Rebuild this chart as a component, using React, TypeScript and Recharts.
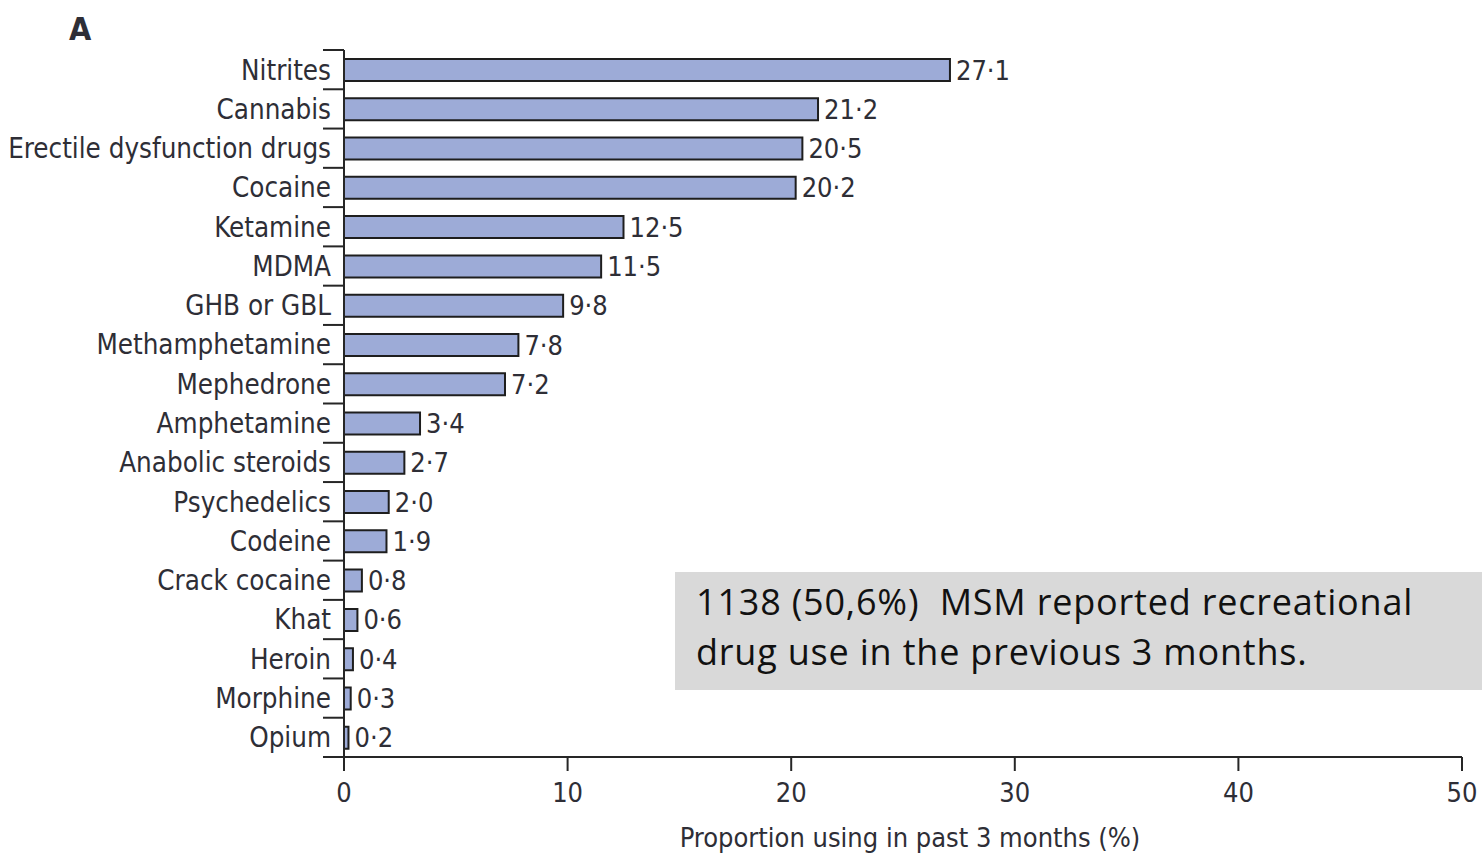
import { BarChart, Bar, XAxis, YAxis, LabelList, Label } from 'recharts';

const categories = [
  'Nitrites', 'Cannabis', 'Erectile dysfunction drugs', 'Cocaine', 'Ketamine', 'MDMA',
  'GHB or GBL', 'Methamphetamine', 'Mephedrone', 'Amphetamine', 'Anabolic steroids',
  'Psychedelics', 'Codeine', 'Crack cocaine', 'Khat', 'Heroin', 'Morphine', 'Opium',
];
const proportions = [27.1, 21.2, 20.5, 20.2, 12.5, 11.5, 9.8, 7.8, 7.2, 3.4, 2.7, 2.0, 1.9, 0.8, 0.6, 0.4, 0.3, 0.2];
const xTicks = [0, 10, 20, 30, 40, 50];

const data = categories.map((name, i) => ({ name, value: proportions[i] }));

const TEXT = '#2e2e36';
const AXIS = '#262626';
const LABEL_FONT = '"Liberation Sans Narrow", "DejaVu Sans Condensed", sans-serif';
const PLOT_TOP = 50;
const PLOT_BOTTOM = 757;
const BAND = (PLOT_BOTTOM - PLOT_TOP) / categories.length;

const fmt = (v: number) => v.toFixed(1).replace('.', '·');

// category label + tick mark at the top edge of each band
function CategoryTick(props: any) {
  const { x, y, payload } = props;
  const isLast = payload.value === categories[categories.length - 1];
  return (
    <g>
      <line x1={x - 21} x2={x} y1={y - BAND / 2} y2={y - BAND / 2} stroke={AXIS} strokeWidth={2} />
      {isLast && (
        <line x1={x - 21} x2={x} y1={y + BAND / 2} y2={y + BAND / 2} stroke={AXIS} strokeWidth={2} />
      )}
      <text x={x - 13} y={y} dy="0.36em" textAnchor="end" fontSize={27.5} fill={TEXT} fontFamily={LABEL_FONT}>
        {payload.value}
      </text>
    </g>
  );
}

export default function App() {
  return (
    <div style={{ position: 'absolute', left: 0, top: 0, width: 1482, height: 855, background: '#fff' }}>
      <div
        style={{
          position: 'absolute', left: 69, top: 10, fontSize: 32, fontWeight: 600,
          fontFamily: LABEL_FONT, color: TEXT,
        }}
      >
        A
      </div>

      <BarChart
        layout="vertical"
        width={1482}
        height={855}
        data={data}
        margin={{ top: PLOT_TOP, right: 20, bottom: 0, left: 0 }}
      >
        <XAxis
          type="number"
          domain={[0, 50]}
          ticks={xTicks}
          height={98}
          tickSize={14}
          tickMargin={12}
          axisLine={{ stroke: AXIS, strokeWidth: 2 }}
          tickLine={{ stroke: AXIS, strokeWidth: 2 }}
          tick={{ fontSize: 27, fill: TEXT, fontFamily: LABEL_FONT }}
        >
          <Label
            value="Proportion using in past 3 months (%)"
            position="insideBottom"
            offset={8}
            dx={7}
            style={{ fontSize: 27, fill: TEXT, fontFamily: LABEL_FONT }}
          />
        </XAxis>
        <YAxis
          type="category"
          dataKey="name"
          width={344}
          tickSize={0}
          tickMargin={0}
          tickLine={false}
          interval={0}
          axisLine={{ stroke: AXIS, strokeWidth: 2 }}
          tick={<CategoryTick />}
        />
        <Bar dataKey="value" barSize={22} fill="#9dabd7" stroke="#1e1e1e" strokeWidth={2} isAnimationActive={false}>
          <LabelList
            dataKey="value"
            position="right"
            offset={6}
            formatter={(v: any) => fmt(Number(v))}
            style={{ fontSize: 27, fill: TEXT, fontFamily: LABEL_FONT }}
          />
        </Bar>
      </BarChart>

      <div
        style={{
          position: 'absolute', left: 675, top: 572, width: 807, height: 118, background: '#d9d9d9',
          boxSizing: 'border-box', padding: '5px 0 0 21px', fontFamily: '"Open Sans", Lato, sans-serif',
          fontSize: 36, letterSpacing: 0.8, lineHeight: '50px', color: '#111',
        }}
      >
        1138 (50,6%)&nbsp; MSM reported recreational
        <br />
        drug use in the previous 3 months.
      </div>
    </div>
  );
}
